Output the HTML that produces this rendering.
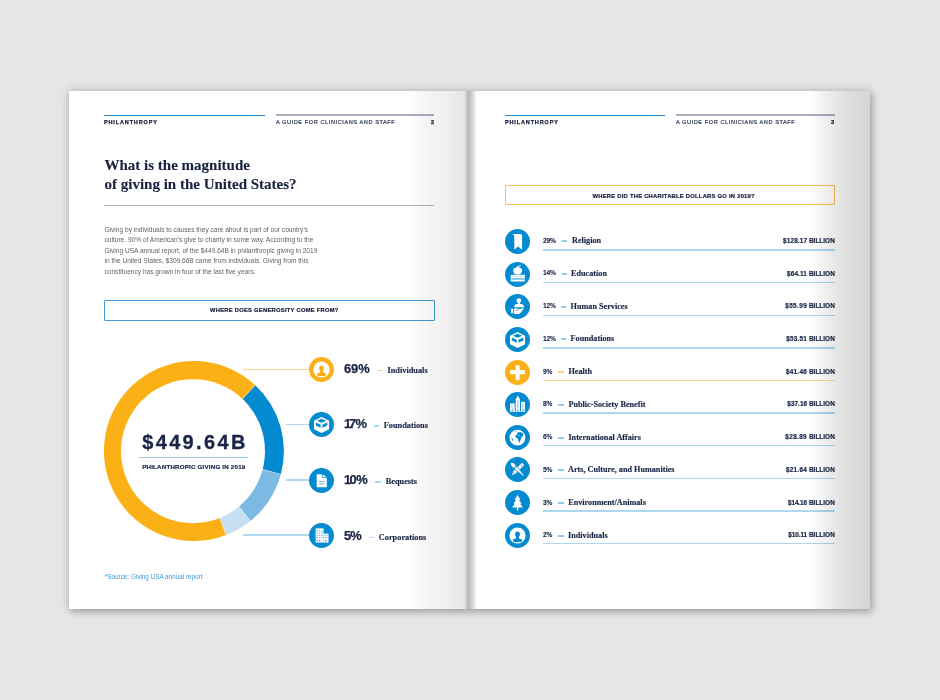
<!DOCTYPE html>
<html><head><meta charset="utf-8"><style>
*{margin:0;padding:0;box-sizing:border-box}
html,body{width:940px;height:700px;overflow:hidden;background:#e5e6e8}
body{position:relative;font-family:"Liberation Sans",sans-serif;color:#1b2446}
.shadow{position:absolute;left:69px;top:91px;width:801px;height:518px;box-shadow:0 0 9px 1px rgba(0,0,0,.16),2px 3px 7px rgba(0,0,0,.22)}
.pl{position:absolute;left:69px;top:91px;width:400px;height:518px;background:#fff}
.ol{position:absolute;left:69px;top:91px;width:400px;height:518px;mix-blend-mode:multiply;background:linear-gradient(to right,#fff 0,#fff 339px,#f9f9f9 350px,#f4f4f4 360px,#efefef 376px,#ebebeb 386px,#e8e8e8 394px,#e3e3e3 395.5px,#d0d0d0 397px,#c0c0c0 398.5px,#b2b2b2 400px)}
.pr{position:absolute;left:469px;top:91px;width:401px;height:518px;background:#fff}
.or{position:absolute;left:469px;top:91px;width:401px;height:518px;mix-blend-mode:multiply;background:linear-gradient(to right,#b2b2b2 0,#c6c6c6 1px,#cdcdcd 2px,#d8d8d8 4px,#eeeeee 6px,#fcfcfc 8px,#fff 9px,#fff 341px,#f4f4f4 351px,#e9e9e9 364px,#e0e0e0 376px,#d9d9d9 391px,#d5d5d5 401px)}
.t{position:absolute;white-space:nowrap;line-height:0;height:0}
.ln{position:absolute}
.ic{position:absolute;overflow:visible}
</style></head><body>
<div class="shadow"></div>
<div class="pl"></div>
<div class="pr"></div>

<div class="ln" style="left:104px;top:114.5px;width:161.00px;height:1.6px;background:#1f8ad3"></div>
<div class="ln" style="left:275.5px;top:114.3px;width:158.50px;height:1.3px;background:#a9aec1"></div>
<div id="t0" class="t" style="left:104.00px;top:122.29px;font-family:'Liberation Sans',sans-serif;font-weight:bold;font-size:5.5px;letter-spacing:0.86px;color:#141a38;-webkit-text-stroke:0.25px #141a38">PHILANTHROPY</div>
<div id="t1" class="t" style="left:275.90px;top:122.26px;font-family:'Liberation Sans',sans-serif;font-weight:normal;font-size:5.6px;letter-spacing:0.58px;color:#2f3856;-webkit-text-stroke:0.2px #2f3856">A GUIDE FOR CLINICIANS AND STAFF</div>
<div id="t2" class="t" style="left:431.00px;top:122.29px;font-family:'Liberation Sans',sans-serif;font-weight:bold;font-size:5.5px;letter-spacing:0.86px;color:#141a38;-webkit-text-stroke:0.25px #141a38">2</div>
<div class="ln" style="left:505px;top:114.5px;width:160.00px;height:1.6px;background:#1f8ad3"></div>
<div class="ln" style="left:675.5px;top:114.3px;width:159.00px;height:1.3px;background:#a9aec1"></div>
<div id="t3" class="t" style="left:505.00px;top:122.29px;font-family:'Liberation Sans',sans-serif;font-weight:bold;font-size:5.5px;letter-spacing:0.86px;color:#141a38;-webkit-text-stroke:0.25px #141a38">PHILANTHROPY</div>
<div id="t4" class="t" style="left:675.90px;top:122.26px;font-family:'Liberation Sans',sans-serif;font-weight:normal;font-size:5.6px;letter-spacing:0.58px;color:#2f3856;-webkit-text-stroke:0.2px #2f3856">A GUIDE FOR CLINICIANS AND STAFF</div>
<div id="t5" class="t" style="left:831.00px;top:122.29px;font-family:'Liberation Sans',sans-serif;font-weight:bold;font-size:5.5px;letter-spacing:0.86px;color:#141a38;-webkit-text-stroke:0.25px #141a38">3</div>
<div id="t6" class="t" style="left:104.50px;top:164.94px;font-family:'Liberation Serif',serif;font-weight:bold;font-size:15.0px;letter-spacing:0px;color:#19203f;-webkit-text-stroke:0.1px #19203f">What is the magnitude</div>
<div id="t7" class="t" style="left:104.50px;top:183.54px;font-family:'Liberation Serif',serif;font-weight:bold;font-size:15.0px;letter-spacing:0px;color:#19203f;-webkit-text-stroke:0.1px #19203f">of giving in the United States?</div>
<div class="ln" style="left:104px;top:205.2px;width:330.00px;height:1.2px;background:#a9aec1"></div>
<div id="t8" class="t" style="left:104.50px;top:229.92px;font-family:'Liberation Sans',sans-serif;font-weight:normal;font-size:6.58px;letter-spacing:0px;color:#636363">Giving by individuals to causes they care about is part of our country’s</div>
<div id="t9" class="t" style="left:104.50px;top:240.32px;font-family:'Liberation Sans',sans-serif;font-weight:normal;font-size:6.58px;letter-spacing:0px;color:#636363">culture. 90% of American’s give to charity in some way. According to the</div>
<div id="t10" class="t" style="left:104.50px;top:250.72px;font-family:'Liberation Sans',sans-serif;font-weight:normal;font-size:6.58px;letter-spacing:0px;color:#636363">Giving USA annual report, of the $449.64B in philanthropic giving in 2019</div>
<div id="t11" class="t" style="left:104.50px;top:261.12px;font-family:'Liberation Sans',sans-serif;font-weight:normal;font-size:6.58px;letter-spacing:0px;color:#636363">in the United States, $309.66B came from individuals. Giving from this</div>
<div id="t12" class="t" style="left:104.50px;top:271.52px;font-family:'Liberation Sans',sans-serif;font-weight:normal;font-size:6.58px;letter-spacing:0px;color:#636363">constituency has grown in four of the last five years.</div>
<div class="ln" style="left:104px;top:300px;width:330.5px;height:21px;border:1.1px solid #3f9cd8;border-radius:1px"></div>
<div id="t13" class="t" style="left:210.00px;top:310.49px;font-family:'Liberation Sans',sans-serif;font-weight:bold;font-size:5.8px;letter-spacing:0.26px;color:#141a38;-webkit-text-stroke:0.2px #141a38">WHERE DOES GENEROSITY COME FROM?</div>
<svg class="ic" style="left:0;top:0" width="940" height="700" viewBox="0 0 940 700"><path d="M193.9,451.0 L255.28,385.18 A90,90 0 0 1 280.83,474.29 Z" fill="#038ad0"/><path d="M193.9,451.0 L280.83,474.29 A90,90 0 0 1 250.54,520.94 Z" fill="#7cb9e3"/><path d="M193.9,451.0 L250.54,520.94 A90,90 0 0 1 226.15,535.02 Z" fill="#c6dff2"/><path d="M193.9,451.0 L226.15,535.02 A90,90 0 1 1 255.28,385.18 Z" fill="#fbb116"/><line x1="241.64" y1="399.81" x2="255.28" y2="385.18" stroke="#fff" stroke-opacity=".5" stroke-width=".7"/><line x1="261.51" y1="469.12" x2="280.83" y2="474.29" stroke="#fff" stroke-opacity=".5" stroke-width=".7"/><line x1="237.95" y1="505.40" x2="250.54" y2="520.94" stroke="#fff" stroke-opacity=".5" stroke-width=".7"/><line x1="218.99" y1="516.35" x2="226.15" y2="535.02" stroke="#fff" stroke-opacity=".5" stroke-width=".7"/><circle cx="193.0" cy="451.15" r="72" fill="#fff"/></svg>
<div id="t14" class="t" style="left:142.20px;top:442.37px;font-family:'Liberation Sans',sans-serif;font-weight:bold;font-size:20px;letter-spacing:2.35px;color:#1b2446;-webkit-text-stroke:0.3px #1b2446">$449.64B</div>
<div class="ln" style="left:139.4px;top:456.8px;width:108.90px;height:1px;background:#93c8ec"></div>
<div id="t15" class="t" style="left:142.20px;top:466.95px;font-family:'Liberation Sans',sans-serif;font-weight:bold;font-size:6.2px;letter-spacing:0.2px;color:#1b2446;-webkit-text-stroke:0.2px #1b2446">PHILANTHROPIC GIVING IN 2019</div>
<div class="ln" style="left:243px;top:368.95px;width:66.50px;height:1.5px;background:#fcd992"></div>
<svg class="ic" style="left:309.30px;top:357.20px" width="25" height="25" viewBox="0 0 25 25"><circle cx="12.5" cy="12.5" r="12.5" fill="#fbb116"/><circle cx="12.5" cy="12.5" r="8.1" fill="#fff"/><path fill="#fbb116" d="M12.5,8.5 Q14.9,8.5 14.9,11.1 Q14.9,13.1 13.9,14.1 L13.9,15 Q14.2,15.5 15.2,15.7 Q17.2,16.1 17.2,17.6 Q17.2,18.9 16,18.9 L9,18.9 Q7.8,18.9 7.8,17.6 Q7.8,16.1 9.8,15.7 Q10.8,15.5 11.1,15 L11.1,14.1 Q10.1,13.1 10.1,11.1 Q10.1,8.5 12.5,8.5 Z"/></svg>
<div id="t16" class="t" style="left:343.90px;top:368.93px;font-family:'Liberation Sans',sans-serif;font-weight:bold;font-size:12.9px;letter-spacing:0px;color:#1b2446;-webkit-text-stroke:0.25px #1b2446">69%</div>
<div class="ln" style="left:377px;top:369.9px;width:5.80px;height:1.6px;background:#fcd992"></div>
<div id="t17" class="t" style="left:387.50px;top:370.90px;font-family:'Liberation Serif',serif;font-weight:bold;font-size:8.3px;letter-spacing:0px;color:#1b2446;-webkit-text-stroke:0.15px #1b2446">Individuals</div>
<div class="ln" style="left:286px;top:423.75px;width:23.50px;height:1.5px;background:#acd8f2"></div>
<svg class="ic" style="left:309.30px;top:412.00px" width="25" height="25" viewBox="0 0 25 25"><circle cx="12.5" cy="12.5" r="12.5" fill="#038ad0"/><path fill="#fff" d="M12.55,4.9 L20.1,8.7 L20.1,17.2 L12.55,21 L5,17.2 L5,8.7 Z"/><path fill="#038ad0" d="M12.55,6.8 L17.2,8.8 L12.55,10.8 L7.9,8.8 Z"/><path fill="#038ad0" d="M6.8,10.4 L11.7,12.8 L11.7,15.8 L6.8,13.4 Z"/><path fill="#038ad0" d="M13.4,12.8 L18.3,10.4 L18.3,13.4 L13.4,15.8 Z"/></svg>
<div id="t18" class="t" style="left:343.90px;top:424.13px;font-family:'Liberation Sans',sans-serif;font-weight:bold;font-size:12.9px;letter-spacing:0px;color:#1b2446;-webkit-text-stroke:0.25px #1b2446"><span style="margin-right:-2.1px">1</span><span style="letter-spacing:-0.6px">7</span>%</div>
<div class="ln" style="left:373.6px;top:425.1px;width:5.00px;height:1.6px;background:#acd8f2"></div>
<div id="t19" class="t" style="left:383.70px;top:426.10px;font-family:'Liberation Serif',serif;font-weight:bold;font-size:8.3px;letter-spacing:0px;color:#1b2446;-webkit-text-stroke:0.15px #1b2446">Foundations</div>
<div class="ln" style="left:286px;top:479.45px;width:23.50px;height:1.5px;background:#acd8f2"></div>
<svg class="ic" style="left:309.30px;top:467.70px" width="25" height="25" viewBox="0 0 25 25"><circle cx="12.5" cy="12.5" r="12.5" fill="#038ad0"/><path fill="#fff" d="M7.7,6.3 L12.9,6.3 L12.9,9.7 L17.8,9.7 L17.8,19.2 L7.7,19.2 Z"/><path fill="#fff" d="M13.7,6.6 L17.4,9 L13.7,9 Z"/><rect x="10" y="12.9" width="5.6" height="1.1" fill="#7fbde6"/><rect x="10" y="15.3" width="5.6" height="1.1" fill="#7fbde6"/></svg>
<div id="t20" class="t" style="left:343.90px;top:480.23px;font-family:'Liberation Sans',sans-serif;font-weight:bold;font-size:12.9px;letter-spacing:0px;color:#1b2446;-webkit-text-stroke:0.25px #1b2446"><span style="margin-right:-1.6px">1</span><span style="letter-spacing:-0.4px">0</span>%</div>
<div class="ln" style="left:375.2px;top:481.2px;width:5.40px;height:1.6px;background:#acd8f2"></div>
<div id="t21" class="t" style="left:385.70px;top:482.20px;font-family:'Liberation Serif',serif;font-weight:bold;font-size:8.3px;letter-spacing:0px;color:#1b2446;-webkit-text-stroke:0.15px #1b2446">Bequests</div>
<div class="ln" style="left:243px;top:534.25px;width:66.50px;height:1.5px;background:#acd8f2"></div>
<svg class="ic" style="left:309.30px;top:522.50px" width="25" height="25" viewBox="0 0 25 25"><circle cx="12.5" cy="12.5" r="12.5" fill="#038ad0"/><rect x="6.6" y="5.4" width="8" height="14.2" fill="#fff"/><rect x="14.6" y="10.6" width="4.9" height="9" fill="#fff"/><rect x="7.6" y="7.35" width="1" height="0.9" fill="#038ad0"/><rect x="10.2" y="7.35" width="1" height="0.9" fill="#038ad0"/><rect x="12.6" y="7.35" width="1" height="0.9" fill="#038ad0"/><rect x="7.6" y="9.450000000000001" width="1" height="0.9" fill="#038ad0"/><rect x="10.2" y="9.450000000000001" width="1" height="0.9" fill="#038ad0"/><rect x="12.6" y="9.450000000000001" width="1" height="0.9" fill="#038ad0"/><rect x="7.6" y="11.850000000000001" width="1" height="0.9" fill="#038ad0"/><rect x="10.2" y="11.850000000000001" width="1" height="0.9" fill="#038ad0"/><rect x="12.6" y="11.850000000000001" width="1" height="0.9" fill="#038ad0"/><rect x="7.6" y="14.15" width="1" height="0.9" fill="#038ad0"/><rect x="10.2" y="14.15" width="1" height="0.9" fill="#038ad0"/><rect x="12.6" y="14.15" width="1" height="0.9" fill="#038ad0"/><rect x="15.6" y="11.850000000000001" width="3" height="0.9" fill="#7fbde6"/><rect x="15.6" y="14.15" width="3" height="0.9" fill="#7fbde6"/><rect x="7.5" y="16.9" width="1.2" height="1.5" fill="#038ad0"/><rect x="10.1" y="16.9" width="1.2" height="1.5" fill="#038ad0"/><rect x="16.2" y="16.9" width="1.2" height="1.5" fill="#038ad0"/></svg>
<div id="t22" class="t" style="left:343.90px;top:535.63px;font-family:'Liberation Sans',sans-serif;font-weight:bold;font-size:12.9px;letter-spacing:0px;color:#1b2446;-webkit-text-stroke:0.25px #1b2446"><span style="letter-spacing:-0.9px">5</span>%</div>
<div class="ln" style="left:368.5px;top:536.6px;width:5.40px;height:1.6px;background:#acd8f2"></div>
<div id="t23" class="t" style="left:378.80px;top:537.60px;font-family:'Liberation Serif',serif;font-weight:bold;font-size:8.3px;letter-spacing:0px;color:#1b2446;-webkit-text-stroke:0.15px #1b2446">Corporations</div>
<div id="t24" class="t" style="left:104.80px;top:576.60px;font-family:'Liberation Sans',sans-serif;font-weight:normal;font-size:6.35px;letter-spacing:0px;color:#3a9bd7">*Source: Giving USA annual report</div>
<div class="ln" style="left:505px;top:185.4px;width:329.5px;height:19.6px;border:1.1px solid #f9c252;border-radius:1px"></div>
<div id="t25" class="t" style="left:592.50px;top:195.79px;font-family:'Liberation Sans',sans-serif;font-weight:bold;font-size:5.8px;letter-spacing:0.26px;color:#141a38;-webkit-text-stroke:0.2px #141a38">WHERE DID THE CHARITABLE DOLLARS GO IN 2019?</div>
<svg class="ic" style="left:505.00px;top:229.00px" width="25" height="25" viewBox="0 0 25 25"><circle cx="12.5" cy="12.5" r="12.5" fill="#038ad0"/><path fill="#fff" d="M7.2,5 L15.6,5 Q17.1,5 17.1,6.5 L17.1,20.8 L13,17.6 L9.3,20.8 L9.3,7.6 Q9.3,5.6 7.2,5 Z"/></svg>
<div class="ln" style="left:543px;top:249.35px;width:291.80px;height:1.35px;background:#acd8f2"></div>
<div id="t26" class="t" style="left:543.00px;top:240.71px;font-family:'Liberation Sans',sans-serif;font-weight:bold;font-size:6.6px;letter-spacing:-0.2px;color:#1b2446;-webkit-text-stroke:0.1px #1b2446">29%</div>
<div class="ln" style="left:561.5px;top:240px;width:5.60px;height:1.5px;background:#8ccaee"></div>
<div id="t27" class="t" style="left:572.00px;top:241.13px;font-family:'Liberation Serif',serif;font-weight:bold;font-size:8.2px;letter-spacing:0px;color:#1b2446;-webkit-text-stroke:0.15px #1b2446">Religion</div>
<div id="t28" class="t" style="right:105.20px;top:240.78px;font-family:'Liberation Sans',sans-serif;font-weight:bold;font-size:6.4px;letter-spacing:0.05px;color:#1b2446;-webkit-text-stroke:0.2px #1b2446"><span style="letter-spacing:0.12px">$128.17</span> BILLION</div>
<svg class="ic" style="left:505.00px;top:261.64px" width="25" height="25" viewBox="0 0 25 25"><circle cx="12.5" cy="12.5" r="12.5" fill="#038ad0"/><ellipse cx="12.65" cy="8.8" rx="4.5" ry="3.65" fill="#fff"/><path d="M12.5,5.6 L12.9,3.7 M12.9,5.2 Q14.3,3.4 15.8,3.9" stroke="#fff" stroke-width="1" fill="none"/><path fill="#fff" d="M6.8,12.7 L19.9,12.7 L19.9,19.5 L6.8,19.5 Q5.5,19.5 5.5,18.3 Q5.5,17.2 6.2,16.7 Q5.5,16.2 5.5,14.9 Q5.5,12.7 6.8,12.7 Z"/><rect x="7.4" y="13.7" width="11.4" height="1.6" fill="#cfe7f6"/><rect x="6.6" y="16.5" width="13.3" height="0.9" fill="#038ad0"/></svg>
<div class="ln" style="left:543px;top:281.97px;width:291.80px;height:1.35px;background:#acd8f2"></div>
<div id="t29" class="t" style="left:543.00px;top:273.44px;font-family:'Liberation Sans',sans-serif;font-weight:bold;font-size:6.6px;letter-spacing:-0.2px;color:#1b2446;-webkit-text-stroke:0.1px #1b2446">14%</div>
<div class="ln" style="left:561.5px;top:273px;width:5.60px;height:1.5px;background:#8ccaee"></div>
<div id="t30" class="t" style="left:571.00px;top:273.86px;font-family:'Liberation Serif',serif;font-weight:bold;font-size:8.2px;letter-spacing:0px;color:#1b2446;-webkit-text-stroke:0.15px #1b2446">Education</div>
<div id="t31" class="t" style="right:105.20px;top:273.51px;font-family:'Liberation Sans',sans-serif;font-weight:bold;font-size:6.4px;letter-spacing:0.05px;color:#1b2446;-webkit-text-stroke:0.2px #1b2446"><span style="letter-spacing:0.15px">$64.11</span> BILLION</div>
<svg class="ic" style="left:505.00px;top:294.28px" width="25" height="25" viewBox="0 0 25 25"><circle cx="12.5" cy="12.5" r="12.5" fill="#038ad0"/><ellipse cx="13.9" cy="6.6" rx="2.4" ry="2.3" fill="#fff"/><rect x="12.9" y="8" width="2" height="2.6" fill="#fff"/><path fill="#fff" d="M9.3,13.2 L9.3,12.2 Q9.3,10 11.8,9.9 L16.4,9.9 Q18.9,10 18.9,12.2 L18.9,13.2 Z"/><rect x="6.1" y="14.7" width="2.1" height="4.5" fill="#fff"/><path fill="#fff" d="M9.1,14.4 L12.5,14.4 Q13.6,14.5 13.6,15.6 L17.4,14.2 Q19,13.8 18.4,15.3 L15.2,19.2 Q14.6,19.9 13.6,19.9 L9.1,19.9 Z"/><path d="M10.4,16.4 L13.4,16.4" stroke="#038ad0" stroke-width="0.6"/></svg>
<div class="ln" style="left:543px;top:314.59px;width:291.80px;height:1.35px;background:#acd8f2"></div>
<div id="t32" class="t" style="left:543.00px;top:306.17px;font-family:'Liberation Sans',sans-serif;font-weight:bold;font-size:6.6px;letter-spacing:-0.2px;color:#1b2446;-webkit-text-stroke:0.1px #1b2446">12%</div>
<div class="ln" style="left:560.5px;top:306px;width:5.60px;height:1.5px;background:#8ccaee"></div>
<div id="t33" class="t" style="left:570.60px;top:306.59px;font-family:'Liberation Serif',serif;font-weight:bold;font-size:8.2px;letter-spacing:0px;color:#1b2446;-webkit-text-stroke:0.15px #1b2446">Human Services</div>
<div id="t34" class="t" style="right:105.20px;top:306.24px;font-family:'Liberation Sans',sans-serif;font-weight:bold;font-size:6.4px;letter-spacing:0.05px;color:#1b2446;-webkit-text-stroke:0.2px #1b2446"><span style="letter-spacing:0.38px">$55.99</span> BILLION</div>
<svg class="ic" style="left:505.00px;top:326.92px" width="25" height="25" viewBox="0 0 25 25"><circle cx="12.5" cy="12.5" r="12.5" fill="#038ad0"/><path fill="#fff" d="M12.55,4.9 L20.1,8.7 L20.1,17.2 L12.55,21 L5,17.2 L5,8.7 Z"/><path fill="#038ad0" d="M12.55,6.8 L17.2,8.8 L12.55,10.8 L7.9,8.8 Z"/><path fill="#038ad0" d="M6.8,10.4 L11.7,12.8 L11.7,15.8 L6.8,13.4 Z"/><path fill="#038ad0" d="M13.4,12.8 L18.3,10.4 L18.3,13.4 L13.4,15.8 Z"/></svg>
<div class="ln" style="left:543px;top:347.21px;width:291.80px;height:1.35px;background:#acd8f2"></div>
<div id="t35" class="t" style="left:543.00px;top:338.90px;font-family:'Liberation Sans',sans-serif;font-weight:bold;font-size:6.6px;letter-spacing:-0.2px;color:#1b2446;-webkit-text-stroke:0.1px #1b2446">12%</div>
<div class="ln" style="left:560.5px;top:338px;width:5.60px;height:1.5px;background:#8ccaee"></div>
<div id="t36" class="t" style="left:570.60px;top:339.32px;font-family:'Liberation Serif',serif;font-weight:bold;font-size:8.2px;letter-spacing:0px;color:#1b2446;-webkit-text-stroke:0.15px #1b2446">Foundations</div>
<div id="t37" class="t" style="right:105.20px;top:338.97px;font-family:'Liberation Sans',sans-serif;font-weight:bold;font-size:6.4px;letter-spacing:0.05px;color:#1b2446;-webkit-text-stroke:0.2px #1b2446"><span style="letter-spacing:0.22px">$53.51</span> BILLION</div>
<svg class="ic" style="left:505.00px;top:359.56px" width="25" height="25" viewBox="0 0 25 25"><circle cx="12.5" cy="12.5" r="12.5" fill="#fbb116"/><rect x="5.2" y="10.1" width="14.7" height="4.2" fill="#fff"/><rect x="10.7" y="5.3" width="3.9" height="14.9" fill="#fff"/></svg>
<div class="ln" style="left:543px;top:379.83px;width:291.80px;height:1.35px;background:#fcd992"></div>
<div id="t38" class="t" style="left:543.00px;top:371.63px;font-family:'Liberation Sans',sans-serif;font-weight:bold;font-size:6.6px;letter-spacing:-0.2px;color:#1b2446;-webkit-text-stroke:0.1px #1b2446">9%</div>
<div class="ln" style="left:558.1px;top:371px;width:5.60px;height:1.5px;background:#fccf73"></div>
<div id="t39" class="t" style="left:568.40px;top:372.05px;font-family:'Liberation Serif',serif;font-weight:bold;font-size:8.2px;letter-spacing:0px;color:#1b2446;-webkit-text-stroke:0.15px #1b2446">Health</div>
<div id="t40" class="t" style="right:105.20px;top:371.70px;font-family:'Liberation Sans',sans-serif;font-weight:bold;font-size:6.4px;letter-spacing:0.05px;color:#1b2446;-webkit-text-stroke:0.2px #1b2446"><span style="letter-spacing:0.27px">$41.46</span> BILLION</div>
<svg class="ic" style="left:505.00px;top:392.20px" width="25" height="25" viewBox="0 0 25 25"><circle cx="12.5" cy="12.5" r="12.5" fill="#038ad0"/><path fill="#fff" d="M5,11.4 L9.7,11.4 L9.7,19.3 L5,19.3 Z"/><path fill="#fff" d="M10.7,7.3 L12.85,3.6 L15,7.3 L15,19.3 L10.7,19.3 Z"/><path fill="#fff" d="M16,9.9 L19.9,9.9 L19.9,19.3 L16,19.3 Z"/><rect x="4.6" y="19.2" width="15.8" height="0.6" fill="#fff"/><rect x="12.3" y="8.2" width="1.1" height="8" fill="#8cc5ea"/><rect x="17.4" y="11.5" width="1" height="6" fill="#a5d2ef"/><rect x="6" y="12.5" width="2.7" height="4.5" fill="#d5eaf7"/><circle cx="7.2" cy="18.3" r="0.7" fill="#038ad0"/><circle cx="12.9" cy="18.3" r="0.7" fill="#038ad0"/><circle cx="17.9" cy="18.3" r="0.7" fill="#038ad0"/></svg>
<div class="ln" style="left:543px;top:412.45px;width:291.80px;height:1.35px;background:#acd8f2"></div>
<div id="t41" class="t" style="left:543.00px;top:404.36px;font-family:'Liberation Sans',sans-serif;font-weight:bold;font-size:6.6px;letter-spacing:-0.2px;color:#1b2446;-webkit-text-stroke:0.1px #1b2446">8%</div>
<div class="ln" style="left:558.1px;top:404px;width:5.60px;height:1.5px;background:#8ccaee"></div>
<div id="t42" class="t" style="left:568.40px;top:404.78px;font-family:'Liberation Serif',serif;font-weight:bold;font-size:8.2px;letter-spacing:0px;color:#1b2446;-webkit-text-stroke:0.15px #1b2446">Public-Society Benefit</div>
<div id="t43" class="t" style="right:105.20px;top:404.43px;font-family:'Liberation Sans',sans-serif;font-weight:bold;font-size:6.4px;letter-spacing:0.05px;color:#1b2446;-webkit-text-stroke:0.2px #1b2446"><span style="letter-spacing:0.03px">$37.16</span> BILLION</div>
<svg class="ic" style="left:505.00px;top:424.84px" width="25" height="25" viewBox="0 0 25 25"><circle cx="12.5" cy="12.5" r="12.5" fill="#038ad0"/><circle cx="12.45" cy="12.7" r="7.9" fill="#fff"/><path fill="#038ad0" d="M12.3,7.4 L15.3,6.9 L17.6,8.1 L18.5,9.7 L17.8,11.1 L16.7,11.8 L16.2,13.4 L15.3,15.7 L14.4,17.9 L13.5,16.1 L13,14.3 L12.1,12.9 L10.5,12.2 L10.3,11.1 L11.2,9.7 L12.5,9.3 L12.1,8.1 Z"/><ellipse cx="14" cy="10.2" rx="0.9" ry="0.45" fill="#fff"/><path fill="#038ad0" d="M6.4,12.5 L7.5,13.4 L8.2,15.7 L7.7,16.1 L6.8,14.3 Z"/><circle cx="10.7" cy="6.4" r="0.5" fill="#038ad0"/></svg>
<div class="ln" style="left:543px;top:445.07px;width:291.80px;height:1.35px;background:#acd8f2"></div>
<div id="t44" class="t" style="left:543.00px;top:437.09px;font-family:'Liberation Sans',sans-serif;font-weight:bold;font-size:6.6px;letter-spacing:-0.2px;color:#1b2446;-webkit-text-stroke:0.1px #1b2446">6%</div>
<div class="ln" style="left:558.1px;top:437px;width:5.60px;height:1.5px;background:#8ccaee"></div>
<div id="t45" class="t" style="left:568.40px;top:437.51px;font-family:'Liberation Serif',serif;font-weight:bold;font-size:8.2px;letter-spacing:0px;color:#1b2446;-webkit-text-stroke:0.15px #1b2446">International Affairs</div>
<div id="t46" class="t" style="right:105.20px;top:437.16px;font-family:'Liberation Sans',sans-serif;font-weight:bold;font-size:6.4px;letter-spacing:0.05px;color:#1b2446;-webkit-text-stroke:0.2px #1b2446"><span style="letter-spacing:0.37px">$28.89</span> BILLION</div>
<svg class="ic" style="left:505.00px;top:457.48px" width="25" height="25" viewBox="0 0 25 25"><circle cx="12.5" cy="12.5" r="12.5" fill="#038ad0"/><g transform="rotate(45 12.5 12.5)"><path fill="#fff" d="M11,4.6 L14,4.6 L14,16.6 L12.5,20.6 L11,16.6 Z"/><circle cx="12.5" cy="6.8" r="0.6" fill="#038ad0"/><circle cx="12.5" cy="17.4" r="0.55" fill="#038ad0"/></g><g transform="rotate(-45 12.5 12.5)"><path fill="#fff" d="M12.5,3 C14.7,4.6 14.9,7.2 13.5,8.9 L11.5,8.9 C10.1,7.2 10.3,4.6 12.5,3 Z"/><path fill="#fff" stroke="#038ad0" stroke-width="0.7" d="M10.7,9.5 L14.3,9.5 L13.1,21.2 Q12.5,21.9 11.9,21.2 Z"/></g></svg>
<div class="ln" style="left:543px;top:477.69px;width:291.80px;height:1.35px;background:#acd8f2"></div>
<div id="t47" class="t" style="left:543.00px;top:469.82px;font-family:'Liberation Sans',sans-serif;font-weight:bold;font-size:6.6px;letter-spacing:-0.2px;color:#1b2446;-webkit-text-stroke:0.1px #1b2446">5%</div>
<div class="ln" style="left:558.1px;top:469px;width:5.60px;height:1.5px;background:#8ccaee"></div>
<div id="t48" class="t" style="left:568.00px;top:470.24px;font-family:'Liberation Serif',serif;font-weight:bold;font-size:8.2px;letter-spacing:0px;color:#1b2446;-webkit-text-stroke:0.15px #1b2446">Arts, Culture, and Humanities</div>
<div id="t49" class="t" style="right:105.20px;top:469.89px;font-family:'Liberation Sans',sans-serif;font-weight:bold;font-size:6.4px;letter-spacing:0.05px;color:#1b2446;-webkit-text-stroke:0.2px #1b2446"><span style="letter-spacing:0.27px">$21.64</span> BILLION</div>
<svg class="ic" style="left:505.00px;top:490.12px" width="25" height="25" viewBox="0 0 25 25"><circle cx="12.5" cy="12.5" r="12.5" fill="#038ad0"/><path fill="#fff" d="M12.55,5 L15.3,9.5 L14,9.9 L16.6,13.3 L15.2,13.7 L17.9,17.6 L7.2,17.6 L9.9,13.7 L8.5,13.3 L11.1,9.9 L9.8,9.5 Z"/><rect x="11.85" y="17.5" width="1.4" height="3" fill="#fff"/></svg>
<div class="ln" style="left:543px;top:510.31px;width:291.80px;height:1.35px;background:#acd8f2"></div>
<div id="t50" class="t" style="left:543.00px;top:502.55px;font-family:'Liberation Sans',sans-serif;font-weight:bold;font-size:6.6px;letter-spacing:-0.2px;color:#1b2446;-webkit-text-stroke:0.1px #1b2446">3%</div>
<div class="ln" style="left:558.1px;top:502px;width:5.60px;height:1.5px;background:#8ccaee"></div>
<div id="t51" class="t" style="left:568.20px;top:502.97px;font-family:'Liberation Serif',serif;font-weight:bold;font-size:8.2px;letter-spacing:0px;color:#1b2446;-webkit-text-stroke:0.15px #1b2446">Environment/Animals</div>
<div id="t52" class="t" style="right:105.20px;top:502.62px;font-family:'Liberation Sans',sans-serif;font-weight:bold;font-size:6.4px;letter-spacing:0.05px;color:#1b2446;-webkit-text-stroke:0.2px #1b2446"><span style="letter-spacing:-0.07px">$14.16</span> BILLION</div>
<svg class="ic" style="left:505.00px;top:522.76px" width="25" height="25" viewBox="0 0 25 25"><circle cx="12.5" cy="12.5" r="12.5" fill="#038ad0"/><circle cx="12.5" cy="12.5" r="8.1" fill="#fff"/><path fill="#038ad0" d="M12.5,8.5 Q14.9,8.5 14.9,11.1 Q14.9,13.1 13.9,14.1 L13.9,15 Q14.2,15.5 15.2,15.7 Q17.2,16.1 17.2,17.6 Q17.2,18.9 16,18.9 L9,18.9 Q7.8,18.9 7.8,17.6 Q7.8,16.1 9.8,15.7 Q10.8,15.5 11.1,15 L11.1,14.1 Q10.1,13.1 10.1,11.1 Q10.1,8.5 12.5,8.5 Z"/></svg>
<div class="ln" style="left:543px;top:542.93px;width:291.80px;height:1.35px;background:#acd8f2"></div>
<div id="t53" class="t" style="left:543.00px;top:535.28px;font-family:'Liberation Sans',sans-serif;font-weight:bold;font-size:6.6px;letter-spacing:-0.2px;color:#1b2446;-webkit-text-stroke:0.1px #1b2446">2%</div>
<div class="ln" style="left:558.1px;top:535px;width:5.60px;height:1.5px;background:#8ccaee"></div>
<div id="t54" class="t" style="left:568.00px;top:535.70px;font-family:'Liberation Serif',serif;font-weight:bold;font-size:8.2px;letter-spacing:0px;color:#1b2446;-webkit-text-stroke:0.15px #1b2446">Individuals</div>
<div id="t55" class="t" style="right:105.20px;top:535.35px;font-family:'Liberation Sans',sans-serif;font-weight:bold;font-size:6.4px;letter-spacing:0.05px;color:#1b2446;-webkit-text-stroke:0.2px #1b2446"><span style="letter-spacing:-0.05px">$10.11</span> BILLION</div>
<div class="ol"></div><div class="or"></div>
</body></html>
